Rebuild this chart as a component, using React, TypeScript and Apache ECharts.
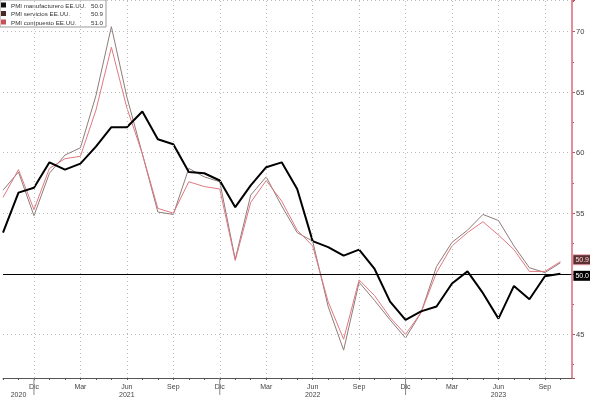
import React, { useEffect, useRef } from "react";
import * as echarts from "echarts";

const months = [
  "Oct", "Nov", "Dic",
  "Ene", "Feb", "Mar", "Abr", "May", "Jun", "Jul", "Ago", "Sep", "Oct", "Nov", "Dic",
  "Ene", "Feb", "Mar", "Abr", "May", "Jun", "Jul", "Ago", "Sep", "Oct", "Nov", "Dic",
  "Ene", "Feb", "Mar", "Abr", "May", "Jun", "Jul", "Ago", "Sep", "Oct",
];
const shownMonths = ["Dic", "Mar", "Jun", "Sep"];
const years = ["2020", "2021", "2022", "2023"];
const yearLabelIdx = [1, 8, 20, 32];
const yearBoundaryIdx = [2, 14, 26];

const manufacturing = [
  53.4, 56.7, 57.1, 59.2, 58.6, 59.1, 60.5, 62.1, 62.1, 63.4, 61.1, 60.7, 58.4,
  58.3, 57.7, 55.5, 57.3, 58.8, 59.2, 57.0, 52.7, 52.2, 51.5, 52.0, 50.4, 47.7,
  46.2, 46.9, 47.3, 49.2, 50.2, 48.4, 46.3, 49.0, 47.9, 49.8, 50.0,
];
const services = [
  56.9, 58.4, 54.8, 58.3, 59.8, 60.4, 64.7, 70.4, 64.6, 59.9, 55.1, 54.9, 58.7,
  58.0, 57.6, 51.2, 56.5, 58.0, 55.6, 53.4, 52.7, 47.3, 43.7, 49.3, 47.8, 46.2,
  44.7, 46.8, 50.6, 52.6, 53.6, 54.9, 54.4, 52.3, 50.5, 50.1, 50.9,
];
const composite = [
  56.3, 58.6, 55.3, 58.7, 59.5, 59.7, 63.5, 68.7, 63.7, 59.9, 55.4, 55.0, 57.6,
  57.2, 57.0, 51.1, 55.9, 57.7, 56.0, 53.6, 52.3, 47.7, 44.6, 49.5, 48.2, 46.4,
  45.0, 46.8, 50.1, 52.3, 53.4, 54.3, 53.2, 52.0, 50.2, 50.2, 51.0,
];

const names = ["PMI manufacturero EE.UU.", "PMI servicios EE.UU.", "PMI compuesto EE.UU."];
const legendValues = ["50.0", "50.9", "51.0"];
const endLabels = ["50.0", "50.9"];
const hiddenYLabels = [50];

const Y_MIN = 41.4;
const Y_MAX = 72.6;
const X_MAX = 36.75;
const FONT = "Liberation Sans, Arial, sans-serif";

export default function App() {
  const ref = useRef<HTMLDivElement>(null);
  useEffect(() => {
    if (!ref.current) return;
    const chart = echarts.init(ref.current, undefined, { renderer: "svg" });
    const toPairs = (arr: number[]) => arr.map((v, i) => [i, v]);
    const quarterIdx = months
      .map((m, i) => (shownMonths.includes(m) ? i : -1))
      .filter((i) => i >= 0);

    chart.setOption({
      animation: false,
      textStyle: { fontFamily: FONT },
      grid: { left: 0, right: 18, top: 0, bottom: 17, containLabel: false },
      legend: {
        orient: "vertical",
        left: 0,
        top: 0,
        itemWidth: 5,
        itemHeight: 5,
        itemGap: 2.5,
        padding: [2, 3, 2, 1],
        backgroundColor: "#fff",
        borderColor: "#999",
        borderWidth: 1,
        icon: "rect",
        textStyle: {
          fontSize: 6.2,
          color: "#333",
          fontFamily: FONT,
          rich: {
            n: { width: 78, fontSize: 6.2, color: "#333", fontFamily: FONT },
            v: { width: 14, align: "right", fontSize: 6.2, color: "#333", fontFamily: FONT },
          },
        },
        formatter: (n: string) => {
          const i = names.indexOf(n);
          return `{n|${n}}{v|${legendValues[i]}}`;
        },
        data: [
          { name: names[0], itemStyle: { color: "#111" } },
          { name: names[1], itemStyle: { color: "#4a2a22" } },
          { name: names[2], itemStyle: { color: "#c8505a" } },
        ],
      },
      xAxis: {
        type: "value",
        min: 0,
        max: X_MAX,
        interval: 1,
        axisLine: { show: true, onZero: false, lineStyle: { color: "#555", width: 1 } },
        axisTick: { show: true, length: 2, lineStyle: { color: "#555" } },
        splitLine: { show: false },
        axisLabel: {
          fontSize: 7,
          color: "#444",
          margin: 4,
          lineHeight: 8,
          showMinLabel: true,
          showMaxLabel: false,
          hideOverlap: false,
          formatter: (v: number) => {
            const i = Math.round(v);
            if (Math.abs(v - i) > 1e-6 || i >= months.length) return "";
            const top = shownMonths.includes(months[i]) ? months[i] : "";
            const yi = yearLabelIdx.indexOf(i);
            const bottom = yi >= 0 ? years[yi] : "";
            if (!top && !bottom) return "";
            return `${top}\n${bottom}`;
          },
        },
      },
      yAxis: {
        type: "value",
        position: "right",
        min: Y_MIN,
        max: Y_MAX,
        splitNumber: 6,
        axisLine: { show: true, onZero: false, lineStyle: { color: "#e08894", width: 1.5 } },
        axisTick: { show: true, length: 3, lineStyle: { color: "#c05060" } },
        minorTick: { show: true, splitNumber: 2, length: 2, lineStyle: { color: "#c05060" } },
        axisLabel: {
          fontSize: 7.5,
          color: "#444",
          margin: 4,
          showMinLabel: false,
          showMaxLabel: false,
          formatter: (v: number) => (hiddenYLabels.includes(v) ? "" : String(v)),
        },
        splitLine: { show: true, lineStyle: { color: "#bbb", type: [1, 3], width: 1 } },
      },
      series: [
        {
          name: names[2],
          type: "line",
          data: toPairs(composite),
          symbol: "none",
          lineStyle: { color: "#e07882", width: 1 },
          itemStyle: { color: "#c8505a" },
          z: 3,
          endLabel: {
            show: true,
            formatter: () => endLabels[1],
            distance: 13,
            offset: [0, -2],
            fontSize: 7,
            lineHeight: 8,
            color: "#f4d8dc",
            backgroundColor: "#5c3030",
            borderColor: "#e8a0aa",
            borderWidth: 1,
            padding: [1, 1, 0, 2],
            fontFamily: FONT,
          },
          markLine: {
            silent: true,
            symbol: "none",
            label: { show: false },
            animation: false,
            data: [
              ...quarterIdx.map((x) => ({
                xAxis: x,
                lineStyle: { color: "#bbb", type: [1, 3], width: 1 },
              })),
              { yAxis: 50, lineStyle: { color: "#000", type: "solid", width: 1 } },
              { xAxis: X_MAX, lineStyle: { color: "#e08894", type: "solid", width: 1.5 } },
            ],
          },
        },
        {
          name: names[1],
          type: "line",
          data: toPairs(services),
          symbol: "none",
          lineStyle: { color: "#8e7c78", width: 1 },
          itemStyle: { color: "#4a2a22" },
          z: 2,
        },
        {
          name: names[0],
          type: "line",
          data: toPairs(manufacturing),
          symbol: "none",
          lineStyle: { color: "#000", width: 2 },
          itemStyle: { color: "#111" },
          z: 4,
          endLabel: {
            show: true,
            formatter: () => endLabels[0],
            distance: 13,
            offset: [0, 2],
            fontSize: 7,
            lineHeight: 8,
            color: "#fff",
            backgroundColor: "#000",
            padding: [1, 2, 1, 2],
            fontFamily: FONT,
          },
        },
        {
          type: "custom",
          silent: true,
          clip: false,
          data: yearBoundaryIdx.map((x) => [x, Y_MIN]),
          renderItem: (_p: any, api: any) => {
            const p = api.coord([api.value(0), api.value(1)]);
            return {
              type: "line",
              shape: { x1: p[0], y1: p[1], x2: p[0], y2: p[1] + 17 },
              style: { stroke: "#888", lineWidth: 1 },
            };
          },
          z: 1,
        },
      ],
    });
    return () => chart.dispose();
  }, []);
  return (
    <div
      ref={ref}
      style={{ position: "fixed", left: 0, top: 0, width: 590, height: 398 }}
    />
  );
}
